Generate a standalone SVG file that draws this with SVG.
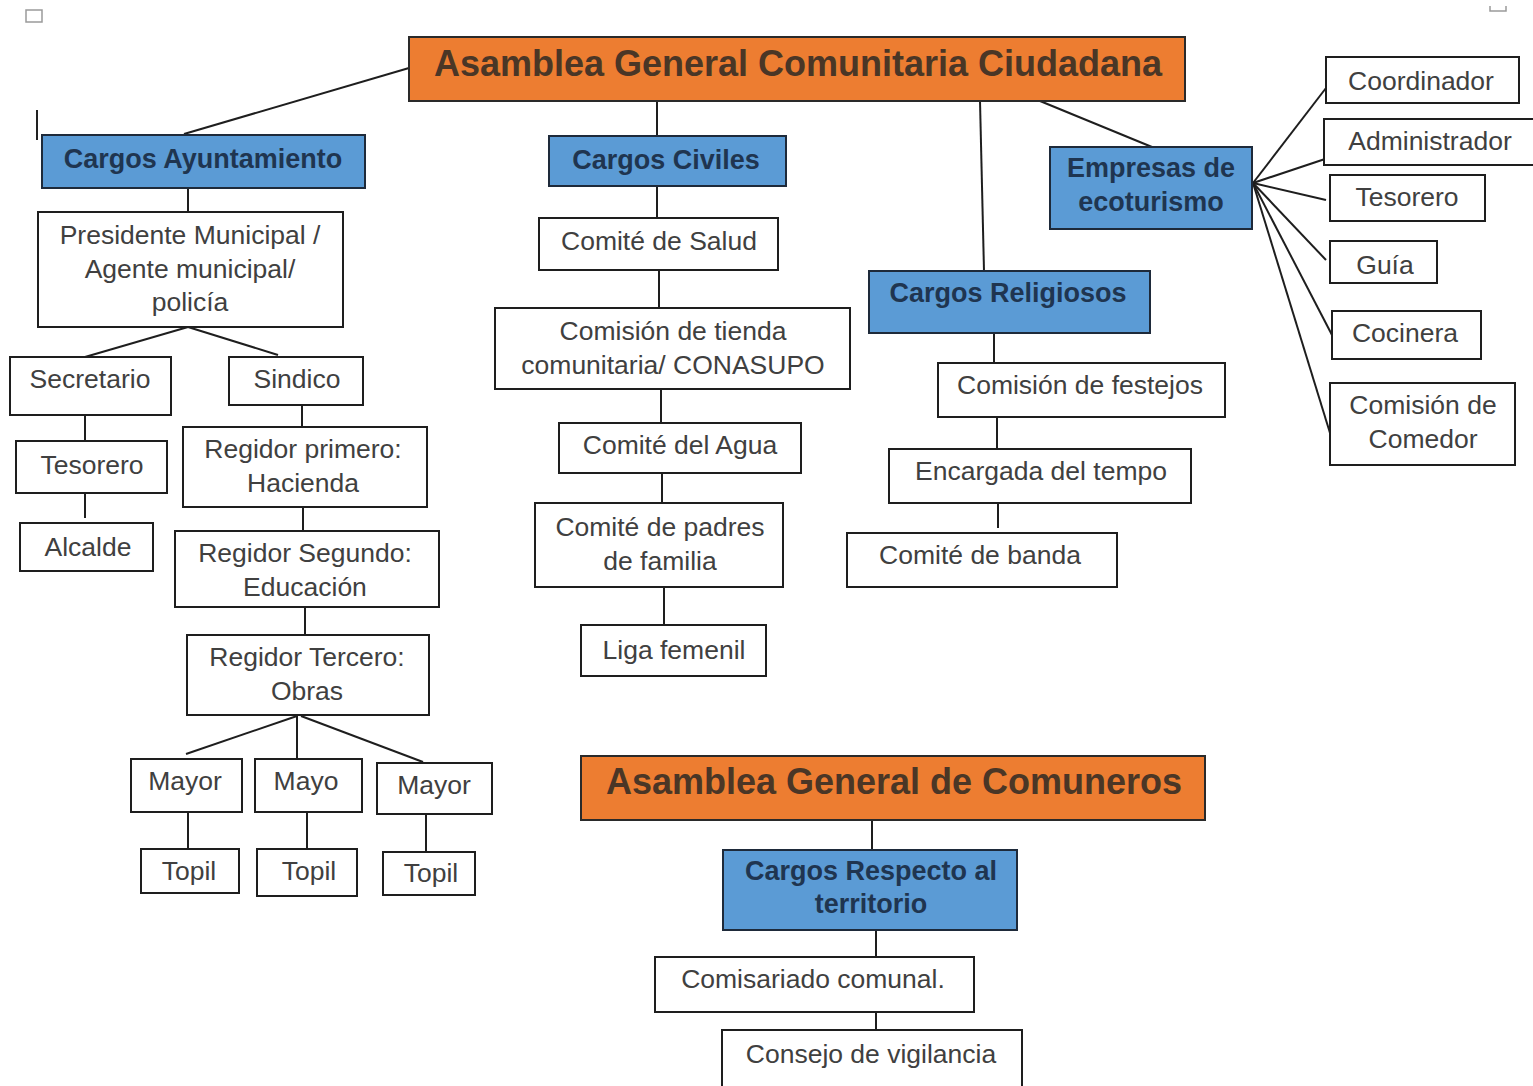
<svg xmlns="http://www.w3.org/2000/svg" width="1533" height="1086" viewBox="0 0 1533 1086">
<style>
  .box{fill:#ffffff;stroke:#1e1e1e;stroke-width:2}
  .blue{fill:#5b9bd5;stroke:#1e2a3a;stroke-width:2}
  .orange{fill:#ed7d31;stroke:#2a2a2a;stroke-width:2}
  .t{font-family:"Liberation Sans",Arial,sans-serif;font-size:26.5px;fill:#404040;text-anchor:middle}
  .tb{font-family:"Liberation Sans",Arial,sans-serif;font-size:27px;font-weight:bold;fill:#1f3550;text-anchor:middle}
  .to{font-family:"Liberation Sans",Arial,sans-serif;font-size:36px;font-weight:bold;fill:#4a3626;text-anchor:middle}
  .c{stroke:#1e1e1e;stroke-width:2;fill:none}
</style>
<rect width="1533" height="1086" fill="#ffffff"/>
<g id="artifacts">
  <rect x="26" y="10" width="16" height="12" fill="none" stroke="#9a9a9a" stroke-width="1.5"/>
  <line x1="37" y1="110" x2="37" y2="140" stroke="#222" stroke-width="2"/>
  <path d="M1490 6 V11 H1506 V6" fill="none" stroke="#9a9a9a" stroke-width="1.5"/>
</g>
<g id="connectors">
  <line class="c" x1="409" y1="68" x2="184" y2="134"/>
  <line class="c" x1="657" y1="101" x2="657" y2="136"/>
  <line class="c" x1="980" y1="101" x2="984" y2="271"/>
  <line class="c" x1="1040" y1="101" x2="1152" y2="147"/>
  <line class="c" x1="188" y1="188" x2="188" y2="212"/>
  <line class="c" x1="188" y1="327" x2="85" y2="357"/>
  <line class="c" x1="188" y1="327" x2="278" y2="355"/>
  <line class="c" x1="85" y1="415" x2="85" y2="441"/>
  <line class="c" x1="85" y1="493" x2="85" y2="518"/>
  <line class="c" x1="302" y1="405" x2="302" y2="427"/>
  <line class="c" x1="303" y1="507" x2="303" y2="531"/>
  <line class="c" x1="305" y1="607" x2="305" y2="635"/>
  <line class="c" x1="297" y1="716" x2="186" y2="754"/>
  <line class="c" x1="297" y1="716" x2="297" y2="763"/>
  <line class="c" x1="301" y1="716" x2="423" y2="762"/>
  <line class="c" x1="188" y1="812" x2="188" y2="849"/>
  <line class="c" x1="307" y1="812" x2="307" y2="849"/>
  <line class="c" x1="426" y1="814" x2="426" y2="852"/>
  <line class="c" x1="657" y1="186" x2="657" y2="218"/>
  <line class="c" x1="659" y1="270" x2="659" y2="308"/>
  <line class="c" x1="661" y1="389" x2="661" y2="423"/>
  <line class="c" x1="662" y1="473" x2="662" y2="503"/>
  <line class="c" x1="664" y1="587" x2="664" y2="625"/>
  <line class="c" x1="994" y1="333" x2="994" y2="363"/>
  <line class="c" x1="997" y1="417" x2="997" y2="449"/>
  <line class="c" x1="998" y1="503" x2="998" y2="528"/>
  <line class="c" x1="1253" y1="183" x2="1326" y2="88"/>
  <line class="c" x1="1253" y1="183" x2="1325" y2="159"/>
  <line class="c" x1="1253" y1="183" x2="1326" y2="200"/>
  <line class="c" x1="1253" y1="183" x2="1326" y2="260"/>
  <line class="c" x1="1253" y1="183" x2="1332" y2="335"/>
  <line class="c" x1="1253" y1="183" x2="1330" y2="433"/>
  <line class="c" x1="872" y1="820" x2="872" y2="850"/>
  <line class="c" x1="876" y1="930" x2="876" y2="957"/>
  <line class="c" x1="876" y1="1012" x2="876" y2="1030"/>
</g>
<g id="asamblea-ciudadana"><rect class="orange" x="409" y="37" width="776" height="64"/><text class="to" x="798" y="76">Asamblea General Comunitaria Ciudadana</text></g>
<g id="cargos-ayuntamiento"><rect class="blue" x="42" y="135" width="323" height="53"/><text class="tb" x="203" y="168">Cargos Ayuntamiento</text></g>
<g id="presidente"><rect class="box" x="38" y="212" width="305" height="115"/><text class="t" x="190" y="244">Presidente Municipal /</text><text class="t" x="190" y="278">Agente municipal/</text><text class="t" x="190" y="311">policía</text></g>
<g id="secretario"><rect class="box" x="10" y="357" width="161" height="58"/><text class="t" x="90" y="388">Secretario</text></g>
<g id="sindico"><rect class="box" x="229" y="357" width="134" height="48"/><text class="t" x="297" y="388">Sindico</text></g>
<g id="tesorero-ayto"><rect class="box" x="16" y="441" width="151" height="52"/><text class="t" x="92" y="474">Tesorero</text></g>
<g id="alcalde"><rect class="box" x="20" y="523" width="133" height="48"/><text class="t" x="88" y="556">Alcalde</text></g>
<g id="regidor1"><rect class="box" x="183" y="427" width="244" height="80"/><text class="t" x="303" y="458">Regidor primero:</text><text class="t" x="303" y="492">Hacienda</text></g>
<g id="regidor2"><rect class="box" x="175" y="531" width="264" height="76"/><text class="t" x="305" y="562">Regidor Segundo:</text><text class="t" x="305" y="596">Educación</text></g>
<g id="regidor3"><rect class="box" x="187" y="635" width="242" height="80"/><text class="t" x="307" y="666">Regidor Tercero:</text><text class="t" x="307" y="700">Obras</text></g>
<g id="mayor1"><rect class="box" x="131" y="759" width="111" height="53"/><text class="t" x="185" y="790">Mayor</text></g>
<g id="mayor2"><rect class="box" x="255" y="759" width="107" height="53"/><text class="t" x="306" y="790">Mayo</text></g>
<g id="mayor3"><rect class="box" x="377" y="763" width="115" height="51"/><text class="t" x="434" y="794">Mayor</text></g>
<g id="topil1"><rect class="box" x="141" y="849" width="98" height="44"/><text class="t" x="189" y="880">Topil</text></g>
<g id="topil2"><rect class="box" x="257" y="849" width="100" height="47"/><text class="t" x="309" y="880">Topil</text></g>
<g id="topil3"><rect class="box" x="383" y="852" width="92" height="43"/><text class="t" x="431" y="882">Topil</text></g>
<g id="cargos-civiles"><rect class="blue" x="549" y="136" width="237" height="50"/><text class="tb" x="666" y="169">Cargos Civiles</text></g>
<g id="comite-salud"><rect class="box" x="539" y="218" width="239" height="52"/><text class="t" x="659" y="250">Comité de Salud</text></g>
<g id="comision-tienda"><rect class="box" x="495" y="308" width="355" height="81"/><text class="t" x="673" y="340">Comisión de tienda</text><text class="t" x="673" y="374">comunitaria/ CONASUPO</text></g>
<g id="comite-agua"><rect class="box" x="559" y="423" width="242" height="50"/><text class="t" x="680" y="454">Comité del Agua</text></g>
<g id="comite-padres"><rect class="box" x="535" y="503" width="248" height="84"/><text class="t" x="660" y="536">Comité de padres</text><text class="t" x="660" y="570">de familia</text></g>
<g id="liga-femenil"><rect class="box" x="581" y="625" width="185" height="51"/><text class="t" x="674" y="659">Liga femenil</text></g>
<g id="cargos-religiosos"><rect class="blue" x="869" y="271" width="281" height="62"/><text class="tb" x="1008" y="302">Cargos Religiosos</text></g>
<g id="comision-festejos"><rect class="box" x="938" y="363" width="287" height="54"/><text class="t" x="1080" y="394">Comisión de festejos</text></g>
<g id="encargada-tempo"><rect class="box" x="889" y="449" width="302" height="54"/><text class="t" x="1041" y="480">Encargada del tempo</text></g>
<g id="comite-banda"><rect class="box" x="847" y="533" width="270" height="54"/><text class="t" x="980" y="564">Comité de banda</text></g>
<g id="empresas-ecoturismo"><rect class="blue" x="1050" y="147" width="202" height="82"/><text class="tb" x="1151" y="177">Empresas de</text><text class="tb" x="1151" y="211">ecoturismo</text></g>
<g id="coordinador"><rect class="box" x="1326" y="57" width="193" height="46"/><text class="t" x="1421" y="90">Coordinador</text></g>
<g id="administrador"><rect class="box" x="1324" y="119" width="215" height="46"/><text class="t" x="1430" y="150">Administrador</text></g>
<g id="tesorero-eco"><rect class="box" x="1330" y="175" width="155" height="46"/><text class="t" x="1407" y="206">Tesorero</text></g>
<g id="guia"><rect class="box" x="1330" y="241" width="107" height="42"/><text class="t" x="1385" y="274">Guía</text></g>
<g id="cocinera"><rect class="box" x="1332" y="311" width="149" height="48"/><text class="t" x="1405" y="342">Cocinera</text></g>
<g id="comision-comedor"><rect class="box" x="1330" y="383" width="185" height="82"/><text class="t" x="1423" y="414">Comisión de</text><text class="t" x="1423" y="448">Comedor</text></g>
<g id="asamblea-comuneros"><rect class="orange" x="581" y="756" width="624" height="64"/><text class="to" x="894" y="794">Asamblea General de Comuneros</text></g>
<g id="cargos-territorio"><rect class="blue" x="723" y="850" width="294" height="80"/><text class="tb" x="871" y="880">Cargos Respecto al</text><text class="tb" x="871" y="913">territorio</text></g>
<g id="comisariado"><rect class="box" x="655" y="957" width="319" height="55"/><text class="t" x="813" y="988">Comisariado comunal.</text></g>
<g id="consejo-vigilancia"><rect class="box" x="722" y="1030" width="300" height="60"/><text class="t" x="871" y="1063">Consejo de vigilancia</text></g>
</svg>
